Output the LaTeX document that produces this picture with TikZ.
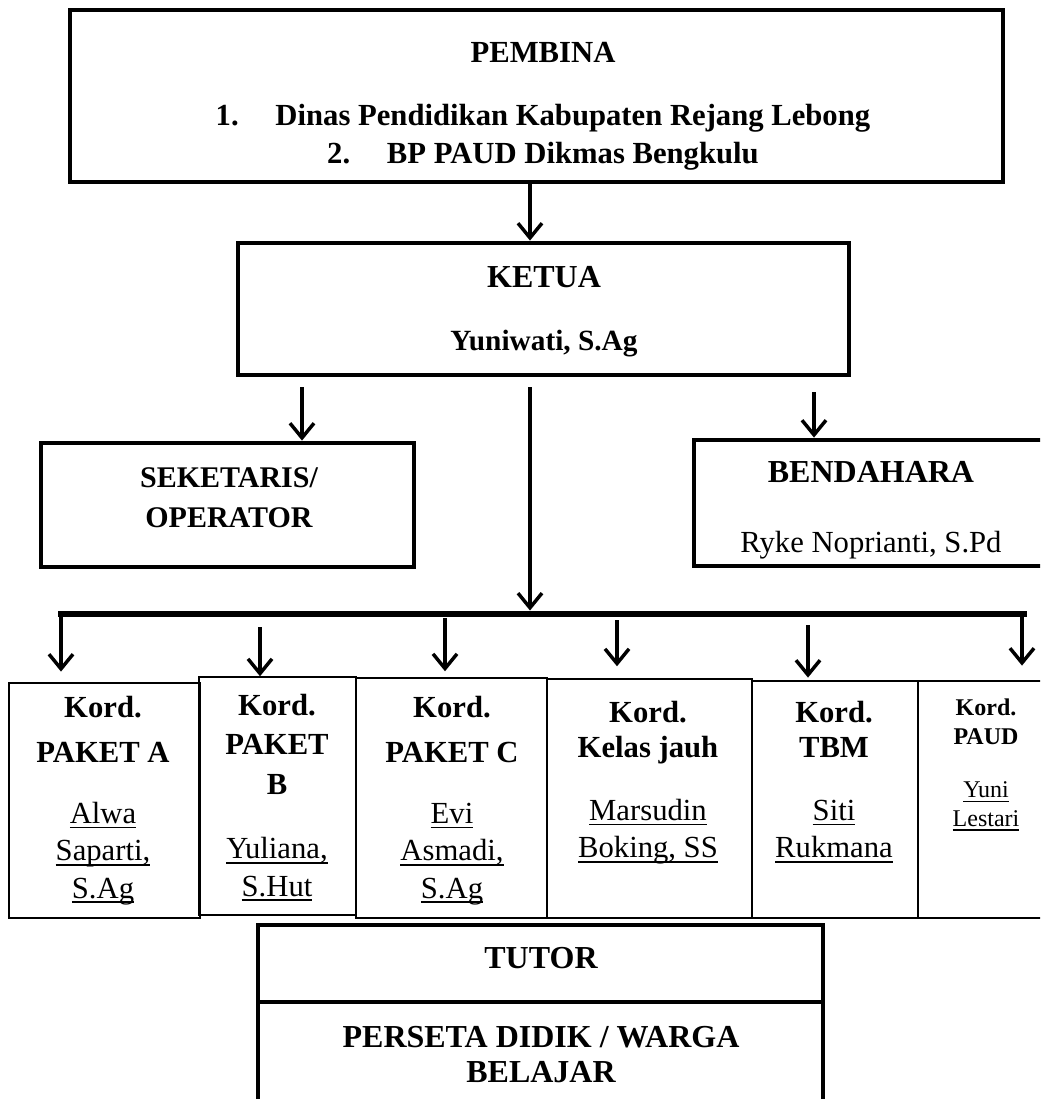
\documentclass[tikz,border=0pt]{standalone}
\usepackage{fontspec}
\setmainfont{Liberation Serif}
\usetikzlibrary{arrows.meta,positioning,fit}
\newcommand{\uname}[1]{\setbox0\hbox{#1}\rlap{\rule[-3.6pt]{\wd0}{1.3pt}}\box0}

\begin{document}
\begin{tikzpicture}[x=0.75pt,y=-0.75pt,
  frame/.style={draw,line width=3.6pt,inner sep=0pt},
  kordbox/.style={draw,line width=1.1pt,inner sep=0pt},
  txt/.style={anchor=north,inner sep=0pt,align=center,font=\fontsize{23}{28}\selectfont},
  head/.style={txt,font=\bfseries\fontsize{23}{28}\selectfont},
  arr/.style={line width=2.6pt,-{Straight Barb[length=11pt,width=18pt]}}]
\useasboundingbox (0,0) rectangle (1040,1099);
\clip (0,0) rectangle (1040,1099);

% top boxes
\node[frame,fit={(70,10) (1003,182)}] (pembina) {};
\node[head,font=\bfseries\fontsize{23}{28.5}\selectfont] (pembina-t) at (543,42) {PEMBINA\\[18.75pt]1.\hspace{1.2em}Dinas Pendidikan Kabupaten Rejang Lebong\\2.\hspace{1.2em}BP PAUD Dikmas Bengkulu};
\node[frame,fit={(238,243) (849,375)}] (ketua) {};
\node[head,font=\bfseries\fontsize{24}{28}\selectfont] (ketua-t) at (544,266) {KETUA\\[19pt]{\fontsize{22}{28}\selectfont Yuniwati, S.Ag}};
\node[frame,fit={(41,443) (414,567)}] (sek) {};
\node[head,font=\bfseries\fontsize{22.5}{30}\selectfont] (sek-t) at (229,467) {SEKETARIS/\\OPERATOR};
\node[frame,fit={(694,440) (1050,566)}] (ben) {};
\node[txt,font=\fontsize{23}{28}\selectfont] (ben-t) at (871,461) {{\bfseries\fontsize{24}{28}\selectfont BENDAHARA}\\[24.5pt]Ryke Noprianti, S.Pd};

% coordinator boxes
\node[kordbox,fit={(9,683) (200,918)}] (ka) {};
\node[kordbox,fit={(199,677) (356,915)}] (kb) {};
\node[kordbox,fit={(356,678) (547,918)}] (kc) {};
\node[kordbox,fit={(547,679) (752,918)}] (kd) {};
\node[kordbox,fit={(752,681) (918,918)}] (ke) {};
\node[kordbox,fit={(918,681) (1060,918)}] (kf) {};
\node[txt] (ka-t) at (103,696) {\textbf{Kord.}\\[5.75pt]\textbf{PAKET A}\\[17.75pt]\uname{Alwa}\\\uname{Saparti,}\\\uname{S.Ag}};
\node[txt] (kb-t) at (277,694) {\textbf{Kord.}\\[1.5pt]\textbf{PAKET}\\[1.5pt]\textbf{B}\\[20.5pt]\uname{Yuliana,}\\\uname{S.Hut}};
\node[txt] (kc-t) at (452,696) {\textbf{Kord.}\\[5.75pt]\textbf{PAKET C}\\[17.75pt]\uname{Evi}\\\uname{Asmadi,}\\\uname{S.Ag}};
\node[txt] (kd-t) at (648,701) {\textbf{Kord.}\\[-1.75pt]\textbf{Kelas jauh}\\[19.25pt]\uname{Marsudin}\\\uname{Boking, SS}};
\node[txt] (ke-t) at (834,701) {\textbf{Kord.}\\[-1.75pt]\textbf{TBM}\\[19.25pt]\uname{Siti}\\\uname{Rukmana}};
\node[txt,font=\fontsize{18}{21.5}\selectfont] (kf-t) at (986,699) {\textbf{Kord.}\\\textbf{PAUD}\\[18.25pt]\uname{Yuni}\\\uname{Lestari}};

% bottom boxes
\node[frame,fit={(258,925) (823,1002)}] (tutor) {};
\node[frame,fit={(258,1002) (823,1160)}] (peserta) {};
\node[head,font=\bfseries\fontsize{24}{26.25}\selectfont] (tutor-t) at (541,947) {TUTOR};
\node[head,font=\bfseries\fontsize{24}{26.25}\selectfont] (peserta-t) at (541,1026) {PERSETA DIDIK / WARGA\\BELAJAR};

% connectors
\coordinate (sek-in) at (302,387);
\coordinate (kor-in) at (530,387);
\coordinate (ben-in) at (814,392);
\coordinate (barL) at (58,614);
\coordinate (barR) at (1027,614);
\coordinate (dA) at (61,614);
\coordinate (dB) at (260,627);
\coordinate (dC) at (445,618);
\coordinate (dD) at (617,620);
\coordinate (dE) at (808,625);
\coordinate (dF) at (1022,614);
\draw[arr] (pembina.south -| kor-in) -- (ketua.north -| kor-in);
\draw[arr] (sek-in) -- (sek.north -| sek-in);
\draw[arr] (ben-in) -- (ben.north -| ben-in);
\draw[line width=5.2pt] (barL) -- (barR);
\draw[arr,shorten >=2.6pt] (kor-in) -- (barL -| kor-in);
\draw[arr,shorten >=8pt] (dA) -- (ka.north -| dA);
\draw[arr] (dB) -- (kb.north -| dB);
\draw[arr,shorten >=4.5pt] (dC) -- (kc.north -| dC);
\draw[arr,shorten >=9pt] (dD) -- (kd.north -| dD);
\draw[arr,shorten >=2pt] (dE) -- (ke.north -| dE);
\draw[arr,shorten >=11pt] (dF) -- (kf.north -| dF);
\end{tikzpicture}
\end{document}
